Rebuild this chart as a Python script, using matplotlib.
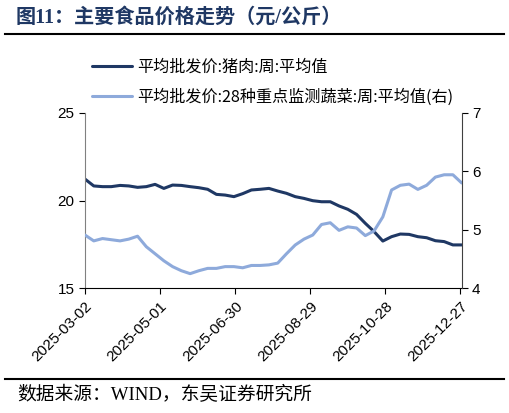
import matplotlib
matplotlib.use("Agg")
import matplotlib.pyplot as plt
import numpy as np
import pandas as pd

plt.rcParams['font.family'] = ['Liberation Sans', 'Noto Sans CJK SC', 'DejaVu Sans']

start_date = "2025-03-02"
n_weeks = 44
dates = pd.date_range(start_date, periods=n_weeks, freq="7D")

pork = [21.22, 20.83, 20.79, 20.79, 20.86, 20.83, 20.75, 20.79, 20.92, 20.69,
        20.88, 20.86, 20.79, 20.73, 20.64, 20.35, 20.31, 20.22, 20.39, 20.60,
        20.64, 20.69, 20.54, 20.41, 20.22, 20.12, 19.99, 19.93, 19.93, 19.69,
        19.50, 19.21, 18.70, 18.23, 17.69, 17.94, 18.09, 18.07, 17.94, 17.88,
        17.71, 17.66, 17.47, 17.47]
veg = [4.91, 4.81, 4.85, 4.83, 4.81, 4.84, 4.89, 4.71, 4.59, 4.47,
       4.37, 4.30, 4.25, 4.30, 4.34, 4.34, 4.37, 4.37, 4.35, 4.39,
       4.39, 4.40, 4.43, 4.59, 4.74, 4.84, 4.91, 5.09, 5.12, 4.99,
       5.05, 5.03, 4.90, 4.98, 5.22, 5.68, 5.76, 5.78, 5.69, 5.76,
       5.90, 5.94, 5.94, 5.80]

tick_dates = pd.to_datetime(["2025-03-02", "2025-05-01", "2025-06-30",
                             "2025-08-29", "2025-10-28", "2025-12-27"])
left_ticks = [15, 20, 25]
right_ticks = [4, 5, 6, 7]

label_pork = "平均批发价:猪肉:周:平均值"
label_veg = "平均批发价:28种重点监测蔬菜:周:平均值(右)"
title = "图11：主要食品价格走势（元/公斤）"
source = "数据来源：WIND，东吴证券研究所"

dark = "#1F3864"
light = "#8EAADB"

fig = plt.figure(figsize=(5.09, 4.13), dpi=100)
ax = fig.add_axes([0.167, 0.302, 0.740, 0.425])
ax2 = ax.twinx()

l1, = ax.plot(dates, pork, color=dark, lw=2.2, solid_capstyle='round')
l2, = ax2.plot(dates, veg, color=light, lw=2.2, solid_capstyle='round')

ax.set_ylim(15, 25)
ax2.set_ylim(4, 7)
ax.set_yticks(left_ticks)
ax2.set_yticks(right_ticks)
ax.set_xlim(dates[0], dates[-1])
ax.set_xticks(tick_dates)
ax.set_xticklabels([d.strftime("%Y-%m-%d") for d in tick_dates], rotation=45,
                   ha='right', rotation_mode='anchor', fontsize=11)
ax.tick_params(axis='y', labelsize=11, length=4, direction='out')
ax2.tick_params(axis='y', labelsize=11, length=4, direction='out')
ax.tick_params(axis='x', length=4, direction='out')

for a in (ax, ax2):
    a.spines['top'].set_visible(False)
ax.spines['left'].set_color('#808080')
ax2.spines['left'].set_visible(False)
ax.spines['right'].set_visible(False)
ax2.spines['right'].set_color('#404040')
ax2.spines['bottom'].set_visible(False)
ax.spines['bottom'].set_color('black')

fig.legend([l1, l2], [label_pork, label_veg], loc='upper left',
           bbox_to_anchor=(0.18, 0.858), frameon=False,
           handlelength=2.5, handletextpad=0.3, labelspacing=0.8,
           borderaxespad=0.0, borderpad=0.0,
           prop={'family': ['Noto Sans CJK SC', 'DejaVu Sans'], 'size': 11.6})

fig.text(0.03, 0.957, title, fontsize=14.5, fontweight='bold', color=dark,
         family=['Liberation Serif', 'Noto Sans CJK SC', 'DejaVu Sans'], va='center')
fig.add_artist(plt.Line2D([0.01, 0.99], [0.918, 0.918], color='black', lw=1.5,
                          transform=fig.transFigure))
fig.add_artist(plt.Line2D([0.01, 0.99], [0.082, 0.082], color='black', lw=1.5,
                          transform=fig.transFigure))
fig.text(0.033, 0.043, source, fontsize=13.5, color='black',
         family=['Liberation Serif', 'Noto Sans CJK SC', 'DejaVu Sans'], va='center')

fig.savefig("out.png", dpi=100)
